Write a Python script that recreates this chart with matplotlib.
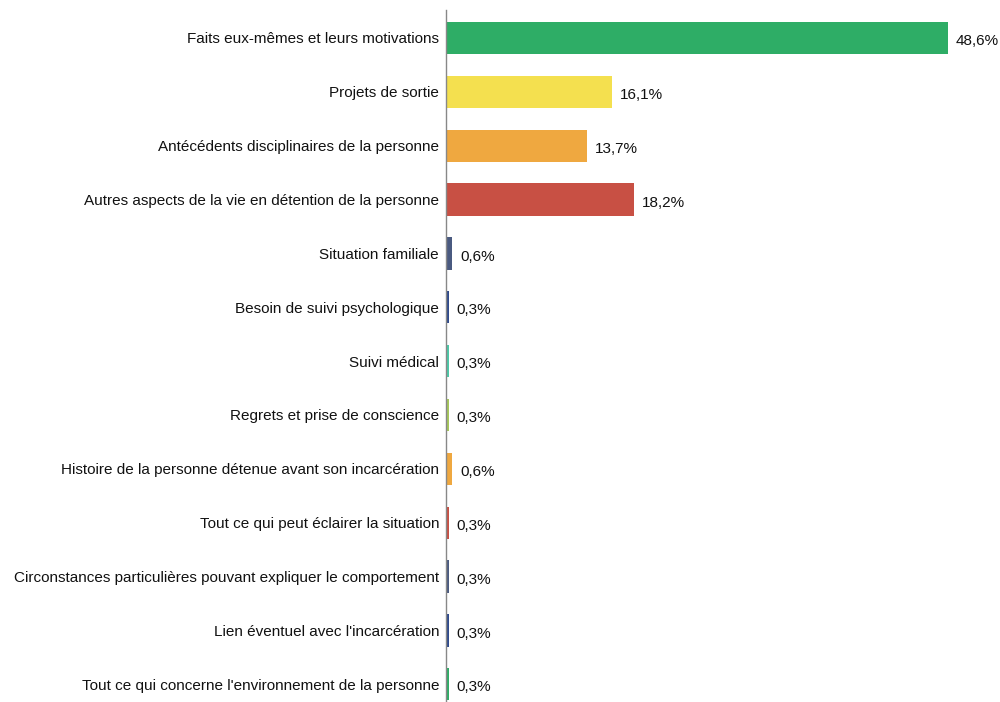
import numpy as np
import matplotlib.pyplot as plt

plt.rcParams["font.family"] = ["Liberation Sans", "DejaVu Sans"]

# ============================================================
# Données
# ============================================================

categories = [
    "Faits eux-mêmes et leurs motivations",
    "Projets de sortie",
    "Antécédents disciplinaires de la personne",
    "Autres aspects de la vie en détention de la personne",
    "Situation familiale",
    "Besoin de suivi psychologique",
    "Suivi médical",
    "Regrets et prise de conscience",
    "Histoire de la personne détenue avant son incarcération",
    "Tout ce qui peut éclairer la situation",
    "Circonstances particulières pouvant expliquer le comportement",
    "Lien éventuel avec l'incarcération",
    "Tout ce qui concerne l'environnement de la personne",
]

values = [48.6, 16.1, 13.7, 18.2, 0.6, 0.3, 0.3, 0.3, 0.6, 0.3, 0.3, 0.3, 0.3]

colors = [
    "#2EAD66", "#F4E04F", "#EFA840", "#C85044", "#4A5A80", "#2F4A8C",
    "#4CC9A8", "#A6C75A", "#EFA840", "#C85044", "#4A5A80", "#2F4A8C",
    "#2EAD66",
]

# ============================================================
# Graphique
# ============================================================

fig = plt.figure(figsize=(10, 7.02), dpi=100)
ax = fig.add_axes([0.446, 0.0, 0.537, 0.9858])

y = np.arange(len(categories))
ax.barh(y, values, height=0.6, color=colors)

for yi, v in zip(y, values):
    label = f"{v:.1f}%".replace(".", ",")
    ax.text(v + 0.75, yi + 0.06, label, va="center", ha="left", fontsize=11, color="#111111")

ax.set_yticks(y)
ax.set_yticklabels(categories, fontsize=11, color="#111111")
ax.tick_params(axis="y", length=0, pad=5)
ax.set_xlim(0, 52)
ax.set_ylim(12.33, -0.52)
ax.set_xticks([])

for side in ["top", "right", "bottom"]:
    ax.spines[side].set_visible(False)
ax.spines["left"].set_color("#888888")
ax.spines["left"].set_linewidth(1.0)

fig.savefig("out.png", dpi=100)
plt.close(fig)
